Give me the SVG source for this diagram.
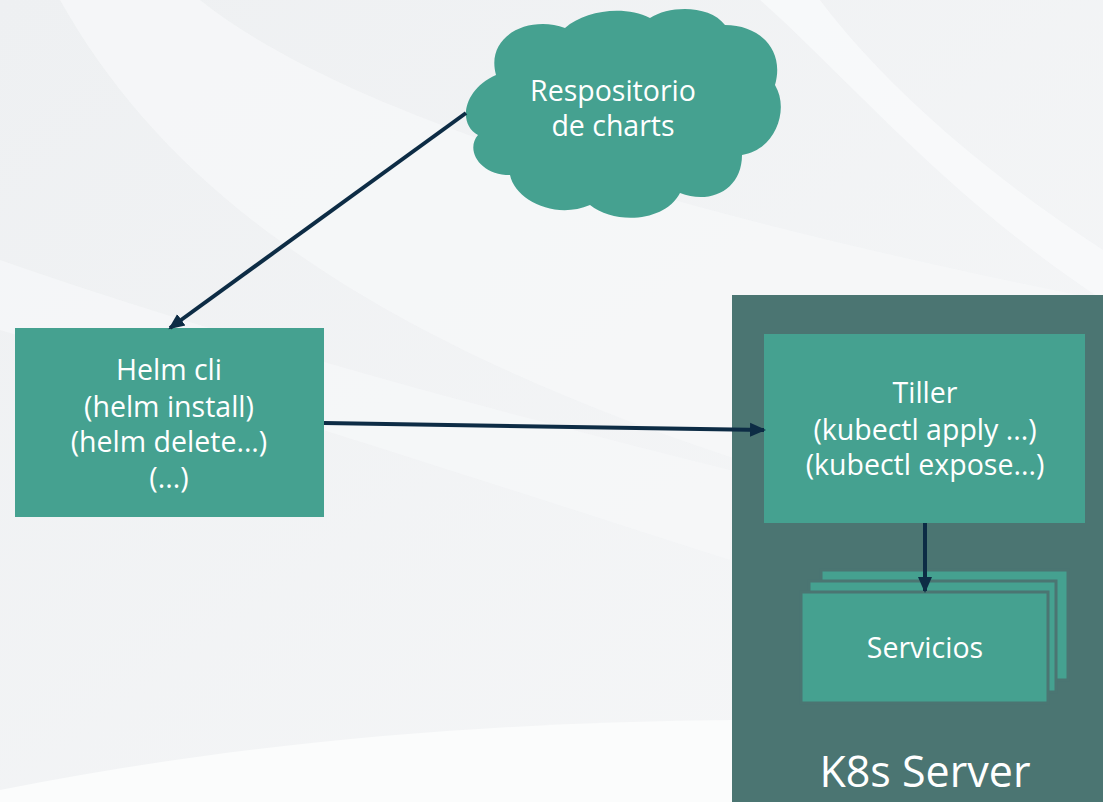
<svg xmlns="http://www.w3.org/2000/svg" width="1103" height="802" viewBox="0 0 1103 802">
<defs>
<style>
.node{fill:#45a190}
.t{font-family:"Open Sans","Noto Sans",sans-serif;fill:#ffffff;text-anchor:middle}
.c{stroke:#0d2c45;stroke-width:4;fill:none}
</style>
<marker id="ah" markerWidth="18" markerHeight="16" refX="14" refY="8" orient="auto" markerUnits="userSpaceOnUse">
<path d="M0,1 L16,8 L0,15 Z" fill="#0d2c45"/>
</marker>
<linearGradient id="bg" x1="0" y1="0" x2="1" y2="1">
<stop offset="0" stop-color="#eef0f2"/>
<stop offset="1" stop-color="#f6f7f8"/>
</linearGradient>
</defs>
<rect width="1103" height="802" fill="url(#bg)"/>
<path d="M60,0 C200,250 500,420 1103,560 L1103,300 C700,220 350,120 200,0 Z" fill="#f6f7f9" opacity="0.8"/>
<path d="M0,260 C200,330 450,400 730,470 L730,560 C450,470 200,390 0,330 Z" fill="#f7f8f9" opacity="0.7"/>
<path d="M760,0 C850,80 950,200 1103,300 L1103,250 C980,170 880,80 820,0 Z" fill="#f9fafb" opacity="0.8"/>
<path d="M0,790 C250,740 500,722 735,720 L735,802 L0,802 Z" fill="#fbfcfc"/>
<g id="k8s-server">
<rect x="732" y="295" width="371" height="507" fill="#4b7572"/>
<text class="t" x="925" y="787" font-size="43">K8s Server</text>
</g>
<g id="repositorio">
<path class="node" d="M496,75 C485,35 530,15 565,28 C585,10 625,5 650,18 C670,5 710,5 725,25 C760,25 785,50 775,85 C790,110 775,150 742,155 C742,190 710,205 680,193 C665,222 615,225 590,205 C555,220 515,200 510,175 C480,175 465,150 478,135 C458,125 462,90 496,75 Z"/>
<text class="t" x="613" y="101" font-size="28.5">Respositorio</text>
<text class="t" x="613" y="136" font-size="28.5">de charts</text>
</g>
<g id="helm-cli">
<rect class="node" x="15" y="328" width="309" height="189"/>
<text class="t" x="169" y="380" font-size="28.5">Helm cli</text>
<text class="t" x="169" y="417" font-size="28.5">(helm install)</text>
<text class="t" x="169" y="452" font-size="28.5">(helm delete...)</text>
<text class="t" x="169" y="488" font-size="28.5">(...)</text>
</g>
<g id="tiller">
<rect class="node" x="764" y="334" width="321" height="189"/>
<text class="t" x="925" y="403" font-size="28.5">Tiller</text>
<text class="t" x="925" y="440" font-size="28.5">(kubectl apply ...)</text>
<text class="t" x="925" y="475" font-size="28.5">(kubectl expose...)</text>
</g>
<g id="servicios">
<rect class="node" x="821" y="570" width="247" height="110" stroke="#4b7572" stroke-width="3"/>
<rect class="node" x="809" y="581" width="247" height="111" stroke="#4b7572" stroke-width="3"/>
<rect class="node" x="801" y="592" width="247" height="111" stroke="#4b7572" stroke-width="3"/>
<text class="t" x="925" y="658" font-size="28.5">Servicios</text>
</g>
<g id="connectors">
<line class="c" x1="466" y1="113" x2="170" y2="328" marker-end="url(#ah)"/>
<line class="c" x1="324" y1="423" x2="764" y2="430" marker-end="url(#ah)"/>
<line class="c" x1="925" y1="523" x2="925" y2="591" marker-end="url(#ah)"/>
</g>
</svg>
